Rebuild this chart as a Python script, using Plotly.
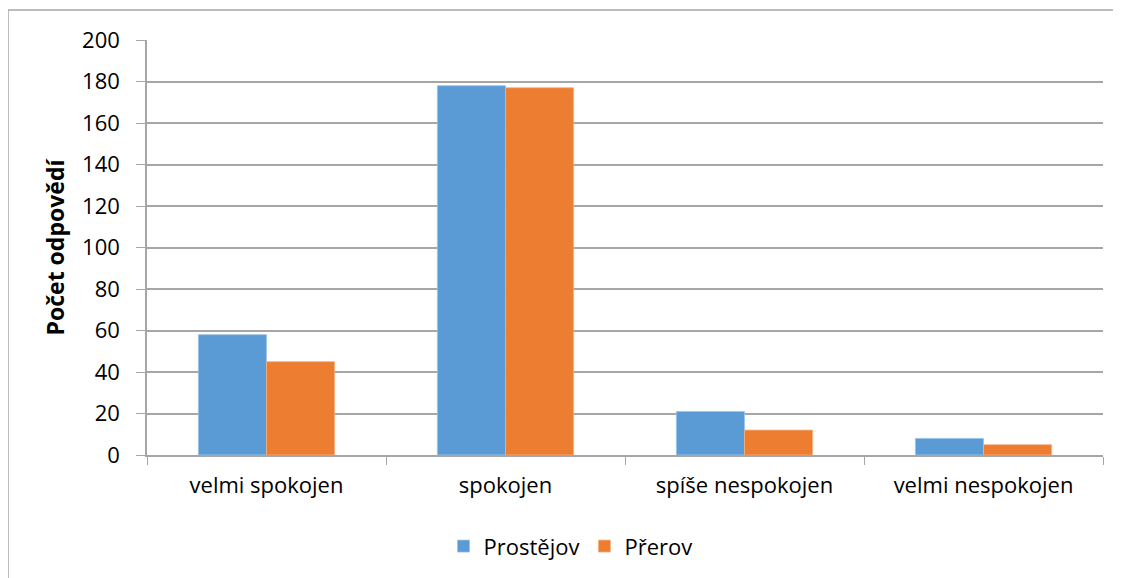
import plotly.graph_objects as go

categories = ["velmi spokojen", "spokojen", "spíše nespokojen", "velmi nespokojen"]
prostejov = [58, 178, 21, 8]
prerov = [45, 177, 12, 5]
series_names = ["Prostějov", "Přerov"]
y_ticks = [0, 20, 40, 60, 80, 100, 120, 140, 160, 180, 200]

FONT = "Open Sans"
fig = go.Figure()
fig.add_trace(go.Bar(x=categories, y=prostejov, name=series_names[0],
                     marker=dict(color="#5B9BD5", line=dict(color="#9cc3e6", width=0.8))))
fig.add_trace(go.Bar(x=categories, y=prerov, name=series_names[1],
                     marker=dict(color="#ED7D31", line=dict(color="#f4b183", width=0.8))))

fig.update_layout(
    width=1121, height=578,
    margin=dict(l=139, r=26, t=32, b=131),
    paper_bgcolor="white", plot_bgcolor="white",
    barmode="group", bargap=0.43, bargroupgap=0,
    font=dict(family=FONT, size=22, color="black"),
    showlegend=True,
    legend=dict(orientation="h", x=0.443, xanchor="center", y=-0.22, yanchor="middle",
                font=dict(size=22), itemwidth=30, traceorder="normal"),
    shapes=[dict(type="rect", xref="paper", yref="paper",
                 x0=-0.1454, x1=1.1, y0=-0.5, y1=1.0723,
                 line=dict(color="#a6a6a6", width=1.5), fillcolor="rgba(0,0,0,0)", layer="below")],
)
fig.update_xaxes(
    type="category", tickson="boundaries", ticks="outside", ticklen=8,
    tickcolor="#a6a6a6", showline=True, linecolor="#a6a6a6", linewidth=1.5,
    showgrid=False, ticklabelstandoff=10,
)
fig.update_yaxes(
    range=[0, 200], tickvals=y_ticks, ticks="outside", ticklen=9, tickcolor="#a6a6a6",
    showline=True, linecolor="#a6a6a6", linewidth=1.5,
    showgrid=True, gridcolor="#a6a6a6", gridwidth=1.5, zeroline=False,
    ticklabelstandoff=12,
    title=dict(text="<b>Počet odpovědí</b>", font=dict(size=23), standoff=11),
)
fig.write_html("out.html")
